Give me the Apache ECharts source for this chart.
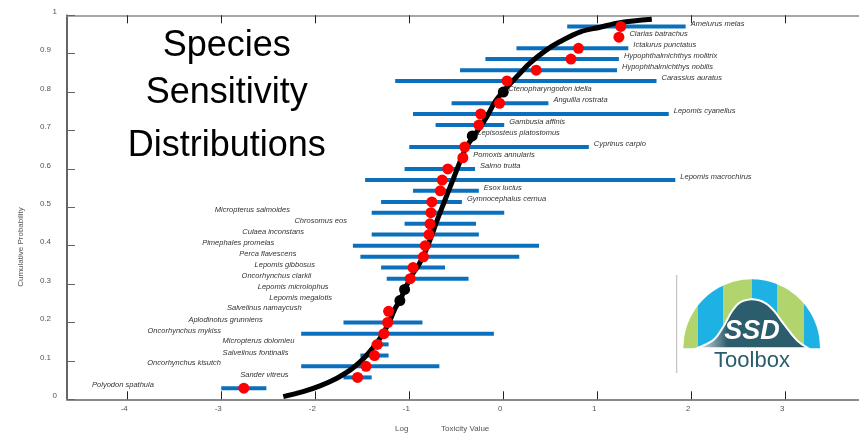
<!DOCTYPE html>
<html>
<head>
<meta charset="utf-8">
<title>Species Sensitivity Distributions</title>
<script src="https://cdn.jsdelivr.net/npm/echarts@6/dist/echarts.min.js"></script>
<style>
  html, body { margin: 0; padding: 0; background: #ffffff; }
  #chart { width: 859px; height: 436px; }
</style>
</head>
<body>
<div id="chart"></div>
<script>
// Species ranked from most to least sensitive
const species = [
  'Polyodon spathula', 'Sander vitreus', 'Oncorhynchus kisutch', 'Salvelinus fontinalis',
  'Micropterus dolomieu', 'Oncorhynchus mykiss', 'Aplodinotus grunniens', 'Salvelinus namaycush',
  'Lepomis megalotis', 'Lepomis microlophus', 'Oncorhynchus clarkii', 'Lepomis gibbosus',
  'Perca flavescens', 'Pimephales promelas', 'Culaea inconstans', 'Chrosomus eos',
  'Micropterus salmoides', 'Gymnocephalus cernua', 'Esox lucius', 'Lepomis macrochirus',
  'Salmo trutta', 'Pomoxis annularis', 'Cyprinus carpio', 'Lepisosteus platostomus',
  'Gambusia affinis', 'Lepomis cyanellus', 'Anguilla rostrata', 'Ctenopharyngodon idella',
  'Carassius auratus', 'Hypophthalmichthys nobilis', 'Hypophthalmichthys molitrix', 'Ictalurus punctatus',
  'Clarias batrachus', 'Ameiurus melas'
];
// Log toxicity value per species
const logTox = [
  -2.76, -1.55, -1.46, -1.37, -1.34, -1.27, -1.23, -1.22,
  -1.10, -1.05, -0.99, -0.96, -0.85, -0.83, -0.79, -0.78,
  -0.77, -0.76, -0.67, -0.65, -0.59, -0.43, -0.41, -0.33,
  -0.26, -0.24, -0.04, 0.00, 0.04, 0.35, 0.72, 0.80,
  1.23, 1.25
];
// Confidence limits (null where none reported)
const ciLow = [
  -3.00, -1.70, -2.15, -1.52, -1.40, -2.15, -1.70, null,
  null, null, -1.24, -1.30, -1.52, -1.60, -1.40, -1.05,
  -1.40, -1.30, -0.96, -1.47, -1.05, null, -1.00, null,
  -0.72, -0.96, -0.55, null, -1.15, -0.46, -0.19, 0.14,
  null, 0.68
];
const ciHigh = [
  -2.52, -1.40, -0.68, -1.22, -1.22, -0.10, -0.86, null,
  null, null, -0.37, -0.62, 0.17, 0.38, -0.26, -0.29,
  0.01, -0.44, -0.26, 1.83, -0.30, null, 0.91, null,
  0.01, 1.76, 0.48, null, 1.63, 1.21, 1.23, 1.33,
  null, 1.94
];
// Cumulative probability of each ranked species
const cumProb = [
  0.029, 0.057, 0.086, 0.114, 0.143, 0.171, 0.200, 0.229,
  0.257, 0.286, 0.314, 0.343, 0.371, 0.400, 0.429, 0.457,
  0.486, 0.514, 0.543, 0.571, 0.600, 0.629, 0.657, 0.686,
  0.714, 0.743, 0.771, 0.800, 0.829, 0.857, 0.886, 0.914,
  0.943, 0.971
];
// Values estimated rather than measured
const estimated = [
  false, false, false, false, false, false, false, false,
  true, true, false, false, false, false, false, false,
  false, false, false, false, false, false, false, true,
  false, false, false, true, false, false, false, false,
  false, false
];
// Fitted distribution curve
const curveLog = [
  -2.34, -2.13, -1.95, -1.77, -1.63, -1.52, -1.42, -1.31, -1.22, -1.15,
  -1.10, -1.04, -0.97, -0.90, -0.83, -0.76, -0.71, -0.655, -0.585, -0.53,
  -0.46, -0.39, -0.28, -0.17, -0.08, 0.03, 0.17, 0.28, 0.46, 0.60,
  0.82, 1.03, 1.24, 1.58
];
const curveProb = [
  0.007, 0.020, 0.035, 0.055, 0.076, 0.098, 0.124, 0.159, 0.198, 0.237,
  0.257, 0.290, 0.324, 0.350, 0.384, 0.428, 0.462, 0.497, 0.541, 0.575,
  0.619, 0.658, 0.697, 0.738, 0.778, 0.810, 0.847, 0.875, 0.910, 0.931,
  0.957, 0.969, 0.981, 0.990
];
const xTicks = [-4, -3, -2, -1, 0, 1, 2, 3];
const titleLines = ['Species', 'Sensitivity', 'Distributions'];

// Layout: distance (px) from the point to the end of left-hand labels
const leftLabelGap = [90, 69, 145, 86, 83, 163, 125, 87, 68, 76, 99, 98, 127, 151, 125, 83, 141];

const FONT = '"Liberation Sans", Arial, Helvetica, sans-serif';
const X_MIN = -4.641, X_MAX = 3.784;

const chart = echarts.init(document.getElementById('chart'), null, { renderer: 'canvas' });

const barData = [];
species.forEach((s, i) => {
  if (ciLow[i] != null && ciHigh[i] != null) barData.push([ciLow[i], ciHigh[i], cumProb[i]]);
});

// Logo: striped dome
function domeStripes() {
  const cx = 751.7, base = 348.3, rx = 68.4, ry = 69;
  const edges = [683.3, 698, 723.5, 752, 777, 804, 820.1];
  const colors = ['#b2d46c', '#1eb1e4', '#b2d46c', '#1eb1e4', '#b2d46c', '#1eb1e4'];
  const out = [];
  for (let k = 0; k < edges.length - 1; k++) {
    const pts = [[edges[k], base]];
    const n = 16;
    for (let j = 0; j <= n; j++) {
      const x = edges[k] + (edges[k + 1] - edges[k]) * j / n;
      const t = Math.max(0, 1 - Math.pow((x - cx) / rx, 2));
      pts.push([x, base - ry * Math.sqrt(t)]);
    }
    pts.push([edges[k + 1], base]);
    out.push({ type: 'polygon', shape: { points: pts }, style: { fill: colors[k] }, silent: true });
  }
  return out;
}

// Logo: bell outline, Catmull-Rom through guide points
function bellPoints() {
  const g = [[696.7, 348.3], [713.3, 340], [723.3, 326.7], [731.7, 311.7], [740, 302.5], [751.7, 299.3],
             [763.3, 302], [773.3, 310], [783.3, 323.3], [796.7, 340], [808.3, 348.3]];
  const pts = [g[0]];
  for (let k = 0; k < g.length - 1; k++) {
    const p0 = g[Math.max(0, k - 1)], p1 = g[k], p2 = g[k + 1], p3 = g[Math.min(g.length - 1, k + 2)];
    for (let j = 1; j <= 10; j++) {
      const t = j / 10, t2 = t * t, t3 = t2 * t;
      const f = (a, b, c, d) => 0.5 * ((2 * b) + (-a + c) * t + (2 * a - 5 * b + 4 * c - d) * t2 + (-a + 3 * b - 3 * c + d) * t3);
      pts.push([f(p0[0], p1[0], p2[0], p3[0]), f(p0[1], p1[1], p2[1], p3[1])]);
    }
  }
  return pts;
}

const option = {
  animation: false,
  backgroundColor: '#ffffff',
  grid: { left: 67, right: 0, top: 15.3, bottom: 36.7, containLabel: false },
  xAxis: [
    {
      type: 'value', position: 'bottom', min: X_MIN, max: X_MAX,
      axisLine: { show: true, onZero: false, lineStyle: { color: '#8a8a8a', width: 2 } },
      axisTick: { show: true, inside: true, length: 8, customValues: xTicks, lineStyle: { color: '#222', width: 1 } },
      axisLabel: { show: true, customValues: xTicks, color: '#555', fontSize: 8, fontFamily: FONT, margin: 5, padding: [0, 6, 0, 0] },
      splitLine: { show: false }
    },
    {
      type: 'value', position: 'top', min: X_MIN, max: X_MAX,
      axisLine: { show: true, onZero: false, lineStyle: { color: '#8a8a8a', width: 1.5 } },
      axisTick: { show: true, inside: true, length: 8, customValues: xTicks, lineStyle: { color: '#222', width: 1 } },
      axisLabel: { show: false },
      splitLine: { show: false }
    }
  ],
  yAxis: {
    type: 'value', min: 0, max: 1, interval: 0.1,
    axisLine: { show: true, onZero: false, lineStyle: { color: '#333', width: 1.5 } },
    axisTick: { show: true, inside: true, length: 8, lineStyle: { color: '#666', width: 1 } },
    axisLabel: {
      show: true, margin: 10, color: '#555', fontSize: 8, fontFamily: FONT, padding: [0, 0, 7, 0],
      formatter: function (v) {
        const t = String(Math.round(v * 10) / 10);
        return (t === '0' || t === '1') ? '{n|' + t + '}' : '{n|' + t + '}{s| }';
      },
      rich: {
        n: { color: '#555', fontSize: 8, fontFamily: FONT },
        s: { width: 6, fontSize: 8 }
      }
    },
    splitLine: { show: false }
  },
  graphic: [
    ...titleLines.map((t, k) => ({
      type: 'text', x: 226.7, y: [46, 93.5, 146][k], silent: true,
      style: { text: t, fill: '#000', font: '36px ' + FONT, align: 'center', verticalAlign: 'middle' }
    })),
    {
      type: 'text', x: 21, y: 247, rotation: Math.PI / 2, silent: true,
      style: { text: 'Cumulative Probability', fill: '#555', font: '8px ' + FONT, align: 'center', verticalAlign: 'middle' }
    },
    {
      type: 'text', x: 401.7, y: 429, silent: true,
      style: { text: 'Log', fill: '#555', font: '8px ' + FONT, align: 'center', verticalAlign: 'middle' }
    },
    {
      type: 'text', x: 441, y: 429, silent: true,
      style: { text: 'Toxicity Value', fill: '#555', font: '8px ' + FONT, align: 'left', verticalAlign: 'middle' }
    },
    // SSD Toolbox logo
    {
      type: 'line', silent: true, shape: { x1: 676.7, y1: 275, x2: 676.7, y2: 373 },
      style: { stroke: '#b5b5b5', lineWidth: 1 }
    },
    ...domeStripes(),
    {
      type: 'polygon', silent: true,
      shape: { points: bellPoints() },
      style: {
        stroke: '#ffffff', lineWidth: 2,
        fill: { type: 'linear', x: 0, y: 0, x2: 1, y2: 0, colorStops: [
          { offset: 0, color: '#f2f5f6' }, { offset: 0.12, color: '#9bb0b8' }, { offset: 0.28, color: '#2b5d6d' }, { offset: 1, color: '#2b5d6d' }
        ] }
      }
    },
    {
      type: 'text', x: 752, y: 332, silent: true,
      style: { text: 'SSD', fill: '#ffffff', font: 'italic bold 27px ' + FONT, align: 'center', verticalAlign: 'middle' }
    },
    {
      type: 'text', x: 752, y: 360.5, silent: true,
      style: { text: 'Toolbox', fill: '#2b5d6d', font: '22px ' + FONT, align: 'center', verticalAlign: 'middle' }
    }
  ],
  series: [
    {
      // Confidence interval bars
      type: 'custom', z: 2, xAxisIndex: 0,
      data: barData,
      encode: { x: [0, 1], y: 2 },
      renderItem: function (params, api) {
        const a = api.coord([api.value(0), api.value(2)]);
        const b = api.coord([api.value(1), api.value(2)]);
        return { type: 'rect', shape: { x: a[0], y: a[1] - 2, width: b[0] - a[0], height: 4 }, style: { fill: '#0a70be' } };
      }
    },
    {
      // Fitted distribution
      type: 'line', z: 3, xAxisIndex: 0, smooth: 0.35, showSymbol: false, symbol: 'none',
      data: curveLog.map((x, i) => [x, curveProb[i]]),
      lineStyle: { color: '#000', width: 5, cap: 'butt' }
    },
    {
      // Species toxicity values
      type: 'scatter', z: 4, xAxisIndex: 0, symbol: 'circle', symbolSize: 11,
      itemStyle: { opacity: 1 },
      data: logTox.map((x, i) => ({ value: [x, cumProb[i]], itemStyle: { color: estimated[i] ? '#000' : '#ff0000', opacity: 1 } }))
    },
    {
      // Species names
      type: 'custom', z: 5, xAxisIndex: 0,
      data: logTox.map((x, i) => [x, cumProb[i]]),
      encode: { x: 0, y: 1 },
      renderItem: function (params, api) {
        const i = params.dataIndex;
        const pt = api.coord([api.value(0), api.value(1)]);
        let x, align;
        if (cumProb[i] < 0.5) {
          x = pt[0] - leftLabelGap[i];
          align = 'right';
        } else if (ciHigh[i] != null) {
          x = api.coord([ciHigh[i], cumProb[i]])[0] + 5;
          align = 'left';
        } else {
          x = pt[0] + (estimated[i] ? 5 : 10.5);
          align = 'left';
        }
        return {
          type: 'text', x: x, y: pt[1] - 3,
          style: { text: species[i], fill: '#333', font: 'italic 7.5px ' + FONT, align: align, verticalAlign: 'middle' }
        };
      }
    }
  ]
};

chart.setOption(option);
</script>
</body>
</html>
